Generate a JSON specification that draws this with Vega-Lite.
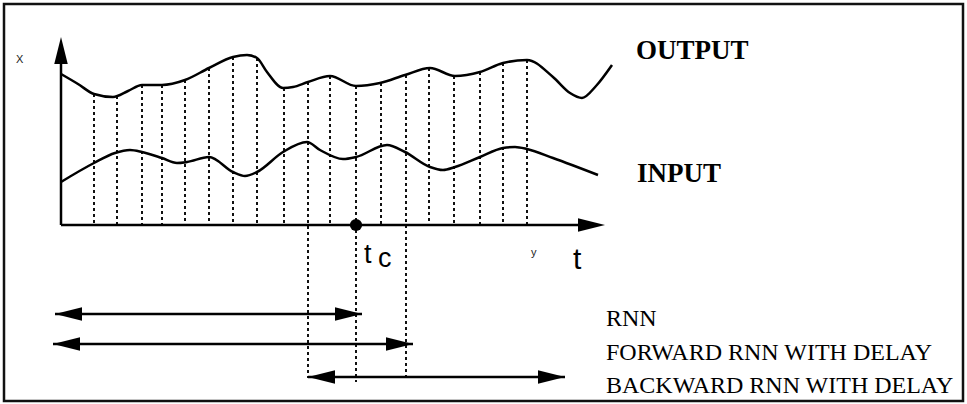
{
  "$schema": "https://vega.github.io/schema/vega-lite/v6.json",
  "width": 967,
  "height": 404,
  "autosize": {"type": "none"},
  "padding": 0,
  "background": "white",
  "config": {"view": {"stroke": null}},
  "datasets": {
    "frame": [{"x": 4, "x2": 963, "y": 4, "y2": 401}],
    "axes": [
      {"x": 61, "x2": 61, "y": 225, "y2": 55},
      {"x": 61, "x2": 585, "y": 225, "y2": 225}
    ],
    "curves": [
      {"series": "OUTPUT", "x": 61, "y": 74},
      {"series": "OUTPUT", "x": 78, "y": 84},
      {"series": "OUTPUT", "x": 94, "y": 94},
      {"series": "OUTPUT", "x": 113, "y": 97},
      {"series": "OUTPUT", "x": 128, "y": 91},
      {"series": "OUTPUT", "x": 142, "y": 85},
      {"series": "OUTPUT", "x": 162, "y": 85},
      {"series": "OUTPUT", "x": 185, "y": 80},
      {"series": "OUTPUT", "x": 209, "y": 68},
      {"series": "OUTPUT", "x": 233, "y": 57},
      {"series": "OUTPUT", "x": 247, "y": 55},
      {"series": "OUTPUT", "x": 257, "y": 58},
      {"series": "OUTPUT", "x": 267, "y": 72},
      {"series": "OUTPUT", "x": 283, "y": 88},
      {"series": "OUTPUT", "x": 293, "y": 87},
      {"series": "OUTPUT", "x": 308, "y": 82},
      {"series": "OUTPUT", "x": 330, "y": 76},
      {"series": "OUTPUT", "x": 356, "y": 86},
      {"series": "OUTPUT", "x": 380, "y": 83},
      {"series": "OUTPUT", "x": 405, "y": 75},
      {"series": "OUTPUT", "x": 430, "y": 68},
      {"series": "OUTPUT", "x": 455, "y": 76},
      {"series": "OUTPUT", "x": 480, "y": 72},
      {"series": "OUTPUT", "x": 503, "y": 63},
      {"series": "OUTPUT", "x": 527, "y": 60},
      {"series": "OUTPUT", "x": 553, "y": 77},
      {"series": "OUTPUT", "x": 570, "y": 93},
      {"series": "OUTPUT", "x": 582, "y": 98},
      {"series": "OUTPUT", "x": 596, "y": 86},
      {"series": "OUTPUT", "x": 612, "y": 65},
      {"series": "INPUT", "x": 61, "y": 182},
      {"series": "INPUT", "x": 94, "y": 163},
      {"series": "INPUT", "x": 115, "y": 153},
      {"series": "INPUT", "x": 130, "y": 150},
      {"series": "INPUT", "x": 142, "y": 152},
      {"series": "INPUT", "x": 162, "y": 158},
      {"series": "INPUT", "x": 177, "y": 163},
      {"series": "INPUT", "x": 187, "y": 162},
      {"series": "INPUT", "x": 209, "y": 157},
      {"series": "INPUT", "x": 233, "y": 172},
      {"series": "INPUT", "x": 245, "y": 176},
      {"series": "INPUT", "x": 257, "y": 172},
      {"series": "INPUT", "x": 283, "y": 152},
      {"series": "INPUT", "x": 307, "y": 142},
      {"series": "INPUT", "x": 320, "y": 150},
      {"series": "INPUT", "x": 343, "y": 159},
      {"series": "INPUT", "x": 356, "y": 157},
      {"series": "INPUT", "x": 387, "y": 145},
      {"series": "INPUT", "x": 405, "y": 152},
      {"series": "INPUT", "x": 430, "y": 167},
      {"series": "INPUT", "x": 443, "y": 170},
      {"series": "INPUT", "x": 455, "y": 167},
      {"series": "INPUT", "x": 480, "y": 157},
      {"series": "INPUT", "x": 503, "y": 148},
      {"series": "INPUT", "x": 515, "y": 147},
      {"series": "INPUT", "x": 527, "y": 149},
      {"series": "INPUT", "x": 553, "y": 158},
      {"series": "INPUT", "x": 598, "y": 175}
    ],
    "samples": [
      {"x": 94, "top": 94, "bottom": 225},
      {"x": 117, "top": 96, "bottom": 225},
      {"x": 142, "top": 85, "bottom": 225},
      {"x": 162, "top": 85, "bottom": 225},
      {"x": 185, "top": 80, "bottom": 225},
      {"x": 209, "top": 68, "bottom": 225},
      {"x": 233, "top": 57, "bottom": 225},
      {"x": 257, "top": 58, "bottom": 225},
      {"x": 284, "top": 88, "bottom": 225},
      {"x": 308, "top": 82, "bottom": 378},
      {"x": 330, "top": 76, "bottom": 225},
      {"x": 356, "top": 86, "bottom": 382},
      {"x": 381, "top": 83, "bottom": 225},
      {"x": 406, "top": 75, "bottom": 380},
      {"x": 429, "top": 68, "bottom": 225},
      {"x": 454, "top": 76, "bottom": 225},
      {"x": 480, "top": 72, "bottom": 225},
      {"x": 503, "top": 63, "bottom": 225},
      {"x": 527, "top": 60, "bottom": 225}
    ],
    "spans": [
      {"name": "RNN", "x": 55, "x2": 362, "y": 314},
      {"name": "FORWARD", "x": 53, "x2": 413, "y": 344},
      {"name": "BACKWARD", "x": 308, "x2": 565, "y": 377}
    ],
    "heads": [
      {"x": 61, "y": 37, "dir": "up"},
      {"x": 605, "y": 225, "dir": "right"},
      {"x": 55, "y": 314, "dir": "left"},
      {"x": 362, "y": 314, "dir": "right"},
      {"x": 53, "y": 344, "dir": "left"},
      {"x": 413, "y": 344, "dir": "right"},
      {"x": 308, "y": 377, "dir": "left"},
      {"x": 565, "y": 377, "dir": "right"}
    ],
    "tc": [{"x": 356, "y": 225}],
    "boldLabels": [
      {"x": 636, "y": 59, "label": "OUTPUT"},
      {"x": 637, "y": 182, "label": "INPUT"}
    ],
    "legendLabels": [
      {"x": 606, "y": 326, "label": "RNN"},
      {"x": 606, "y": 360, "label": "FORWARD RNN WITH DELAY"},
      {"x": 606, "y": 393, "label": "BACKWARD RNN WITH DELAY"}
    ],
    "bigT": [{"x": 573, "y": 269, "label": "t"}],
    "tcLabels": [
      {"x": 364, "y": 263, "label": "t"},
      {"x": 378, "y": 267, "label": "c"}
    ],
    "smallLabels": [
      {"x": 16, "y": 63, "label": "X"},
      {"x": 531, "y": 256, "label": "y"}
    ]
  },
  "layer": [
    {
      "data": {"name": "frame"},
      "mark": {"type": "rect", "fill": null, "fillOpacity": 0, "stroke": "#111", "strokeWidth": 2.5},
      "encoding": {
        "x": {"field": "x", "type": "quantitative", "scale": {"domain": [0, 967], "nice": false, "zero": false}, "axis": null},
        "x2": {"field": "x2"},
        "y": {"field": "y", "type": "quantitative", "scale": {"domain": [0, 404], "nice": false, "zero": false, "reverse": true}, "axis": null},
        "y2": {"field": "y2"}
      }
    },
    {
      "data": {"name": "samples"},
      "mark": {"type": "rule", "stroke": "#111", "strokeWidth": 2, "strokeDash": [3, 3]},
      "encoding": {
        "x": {"field": "x", "type": "quantitative"},
        "y": {"field": "top", "type": "quantitative"},
        "y2": {"field": "bottom"}
      }
    },
    {
      "data": {"name": "axes"},
      "mark": {"type": "rule", "stroke": "#000", "strokeWidth": 2.5},
      "encoding": {
        "x": {"field": "x", "type": "quantitative"},
        "x2": {"field": "x2"},
        "y": {"field": "y", "type": "quantitative"},
        "y2": {"field": "y2"}
      }
    },
    {
      "data": {"name": "curves"},
      "mark": {"type": "line", "interpolate": "monotone", "stroke": "#000", "strokeWidth": 2.5},
      "encoding": {
        "x": {"field": "x", "type": "quantitative"},
        "y": {"field": "y", "type": "quantitative"},
        "detail": {"field": "series", "type": "nominal"}
      }
    },
    {
      "data": {"name": "spans"},
      "mark": {"type": "rule", "stroke": "#000", "strokeWidth": 2.5},
      "encoding": {
        "x": {"field": "x", "type": "quantitative"},
        "x2": {"field": "x2"},
        "y": {"field": "y", "type": "quantitative"}
      }
    },
    {
      "data": {"name": "heads"},
      "mark": {"type": "point", "filled": true, "fill": "#000", "opacity": 1, "strokeWidth": 0, "size": 729},
      "encoding": {
        "x": {"field": "x", "type": "quantitative"},
        "y": {"field": "y", "type": "quantitative"},
        "shape": {"field": "dir", "type": "nominal", "scale": {"domain": ["up", "right", "left"], "range": ["M0,0L-0.5,2L0.5,2Z", "M0,0L-2,-0.5L-2,0.5Z", "M0,0L2,-0.5L2,0.5Z"]}, "legend": null}
      }
    },
    {
      "data": {"name": "tc"},
      "mark": {"type": "circle", "fill": "#000", "opacity": 1, "size": 150},
      "encoding": {
        "x": {"field": "x", "type": "quantitative"},
        "y": {"field": "y", "type": "quantitative"}
      }
    },
    {
      "data": {"name": "boldLabels"},
      "mark": {"type": "text", "align": "left", "baseline": "alphabetic", "font": "Liberation Serif", "fontWeight": "bold", "fontSize": 27, "fill": "#000"},
      "encoding": {
        "x": {"field": "x", "type": "quantitative"},
        "y": {"field": "y", "type": "quantitative"},
        "text": {"field": "label"}
      }
    },
    {
      "data": {"name": "legendLabels"},
      "mark": {"type": "text", "align": "left", "baseline": "alphabetic", "font": "Liberation Serif", "fontSize": 24, "fill": "#000"},
      "encoding": {
        "x": {"field": "x", "type": "quantitative"},
        "y": {"field": "y", "type": "quantitative"},
        "text": {"field": "label"}
      }
    },
    {
      "data": {"name": "bigT"},
      "mark": {"type": "text", "align": "left", "baseline": "alphabetic", "font": "Liberation Sans", "fontSize": 30, "fill": "#000"},
      "encoding": {
        "x": {"field": "x", "type": "quantitative"},
        "y": {"field": "y", "type": "quantitative"},
        "text": {"field": "label"}
      }
    },
    {
      "data": {"name": "tcLabels"},
      "mark": {"type": "text", "align": "left", "baseline": "alphabetic", "font": "Liberation Sans", "fontSize": 27, "fill": "#000"},
      "encoding": {
        "x": {"field": "x", "type": "quantitative"},
        "y": {"field": "y", "type": "quantitative"},
        "text": {"field": "label"}
      }
    },
    {
      "data": {"name": "smallLabels"},
      "mark": {"type": "text", "align": "left", "baseline": "alphabetic", "font": "Liberation Sans", "fontSize": 11, "fill": "#222"},
      "encoding": {
        "x": {"field": "x", "type": "quantitative"},
        "y": {"field": "y", "type": "quantitative"},
        "text": {"field": "label"}
      }
    }
  ]
}
